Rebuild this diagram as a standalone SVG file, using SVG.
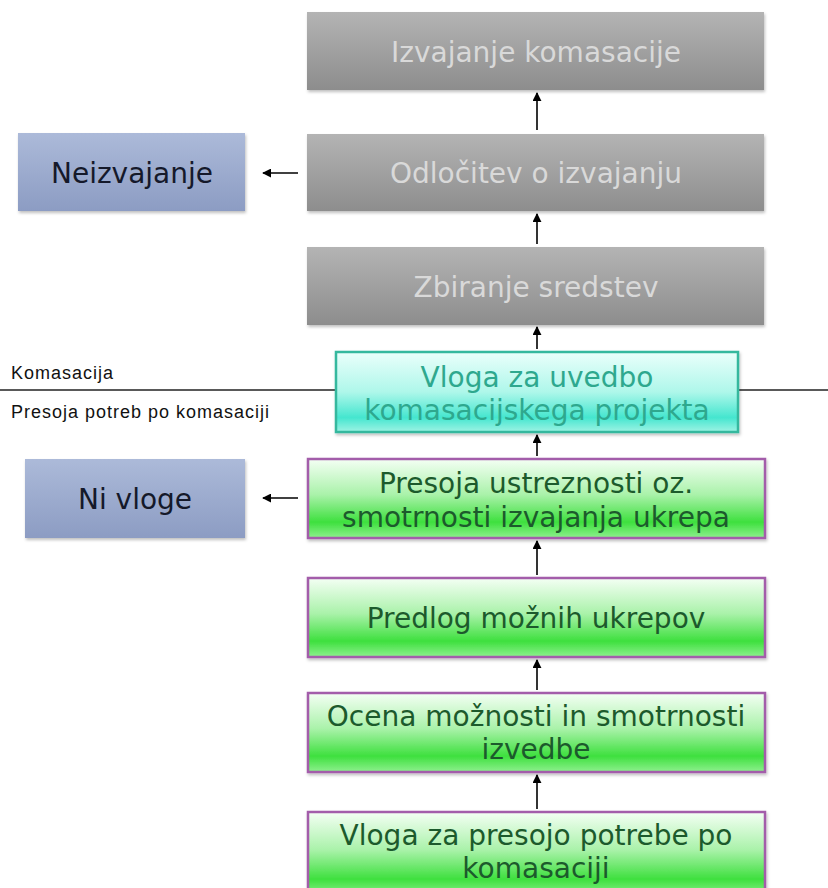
<svg xmlns="http://www.w3.org/2000/svg" width="828" height="888" viewBox="0 0 828 888">
<style>
text{font-family:"DejaVu Sans","Verdana",sans-serif;text-anchor:middle;font-size:28px}
.g{fill:url(#gray);filter:url(#sh)}
.gt{fill:#d9d9d9}
.b{fill:url(#blue);filter:url(#sh)}
.bt{fill:#15192a}
.gr{fill:url(#green);stroke:#a35daa;stroke-width:2.5;filter:url(#sh)}
.grt{fill:#1c5a2c}
.c{fill:url(#cyan);stroke:#35b89e;stroke-width:2.5;filter:url(#sh)}
.ct{fill:#2ea88e}
.lbl{font-family:"Liberation Sans",Arial,sans-serif;font-size:18px;letter-spacing:1px;text-anchor:start;fill:#111}
.con{stroke:#000;stroke-width:1.6;fill:none;marker-end:url(#ah)}
</style>
<defs>
<linearGradient id="gray" x1="0" y1="0" x2="0" y2="1"><stop offset="0" stop-color="#b4b4b4"/><stop offset="1" stop-color="#8d8d8d"/></linearGradient>
<linearGradient id="blue" x1="0" y1="0" x2="0" y2="1"><stop offset="0" stop-color="#acbad9"/><stop offset="1" stop-color="#8c9cc3"/></linearGradient>
<linearGradient id="green" x1="0" y1="0" x2="0" y2="1"><stop offset="0" stop-color="#f4fff4"/><stop offset="0.45" stop-color="#aaf2aa"/><stop offset="0.8" stop-color="#3ee03e"/><stop offset="1" stop-color="#8ef08e"/></linearGradient>
<linearGradient id="cyan" x1="0" y1="0" x2="0" y2="1"><stop offset="0" stop-color="#eafffb"/><stop offset="0.5" stop-color="#aef7ea"/><stop offset="0.82" stop-color="#45e6cf"/><stop offset="1" stop-color="#9ef3e4"/></linearGradient>
<filter id="sh" x="-5%" y="-10%" width="110%" height="125%"><feDropShadow dx="1" dy="2" stdDeviation="1.5" flood-color="#000" flood-opacity="0.25"/></filter>
<marker id="ah" viewBox="0 0 10 10" refX="9" refY="5" markerWidth="9" markerHeight="9" markerUnits="userSpaceOnUse" orient="auto"><path d="M0,0 L10,5 L0,10 z" fill="#000"/></marker>
</defs>

<line x1="0" y1="390" x2="828" y2="390" stroke="#222" stroke-width="1.3"/>
<text class="lbl" x="11" y="379">Komasacija</text>
<text class="lbl" x="11" y="418">Presoja potreb po komasaciji</text>

<g id="connectors">
<line class="con" x1="537" y1="130" x2="537" y2="93"/>
<line class="con" x1="537" y1="244" x2="537" y2="214"/>
<line class="con" x1="537" y1="349" x2="537" y2="327"/>
<line class="con" x1="537" y1="456" x2="537" y2="435"/>
<line class="con" x1="537" y1="575" x2="537" y2="541"/>
<line class="con" x1="537" y1="690" x2="537" y2="660"/>
<line class="con" x1="537" y1="809" x2="537" y2="775"/>
<line class="con" x1="298" y1="173" x2="263" y2="173"/>
<line class="con" x1="298" y1="498" x2="263" y2="498"/>
</g>

<g id="izvajanje"><rect class="g" x="307" y="12" width="457" height="78"/><text class="gt" x="536" y="62">Izvajanje komasacije</text></g>
<g id="odlocitev"><rect class="g" x="307" y="134" width="457" height="77"/><text class="gt" x="536" y="183">Odločitev o izvajanju</text></g>
<g id="zbiranje"><rect class="g" x="307" y="247" width="457" height="78"/><text class="gt" x="536" y="297">Zbiranje sredstev</text></g>
<g id="neizvajanje"><rect class="b" x="18" y="133" width="227" height="78"/><text class="bt" x="132" y="183">Neizvajanje</text></g>
<g id="vloga-uvedba"><rect class="c" x="336" y="352" width="402" height="80"/><text class="ct" x="537" y="387">Vloga za uvedbo</text><text class="ct" x="537" y="420">komasacijskega projekta</text></g>
<g id="ni-vloge"><rect class="b" x="25" y="459" width="220" height="79"/><text class="bt" x="135" y="509">Ni vloge</text></g>
<g id="presoja"><rect class="gr" x="308" y="459" width="457" height="79"/><text class="grt" x="536" y="493">Presoja ustreznosti oz.</text><text class="grt" x="536" y="527">smotrnosti izvajanja ukrepa</text></g>
<g id="predlog"><rect class="gr" x="308" y="578" width="457" height="79"/><text class="grt" x="536" y="628">Predlog možnih ukrepov</text></g>
<g id="ocena"><rect class="gr" x="308" y="693" width="457" height="79"/><text class="grt" x="536" y="726">Ocena možnosti in smotrnosti</text><text class="grt" x="536" y="759">izvedbe</text></g>
<g id="vloga-presoja"><rect class="gr" x="308" y="812" width="457" height="84"/><text class="grt" x="536" y="845">Vloga za presojo potrebe po</text><text class="grt" x="536" y="878">komasaciji</text></g>
</svg>
